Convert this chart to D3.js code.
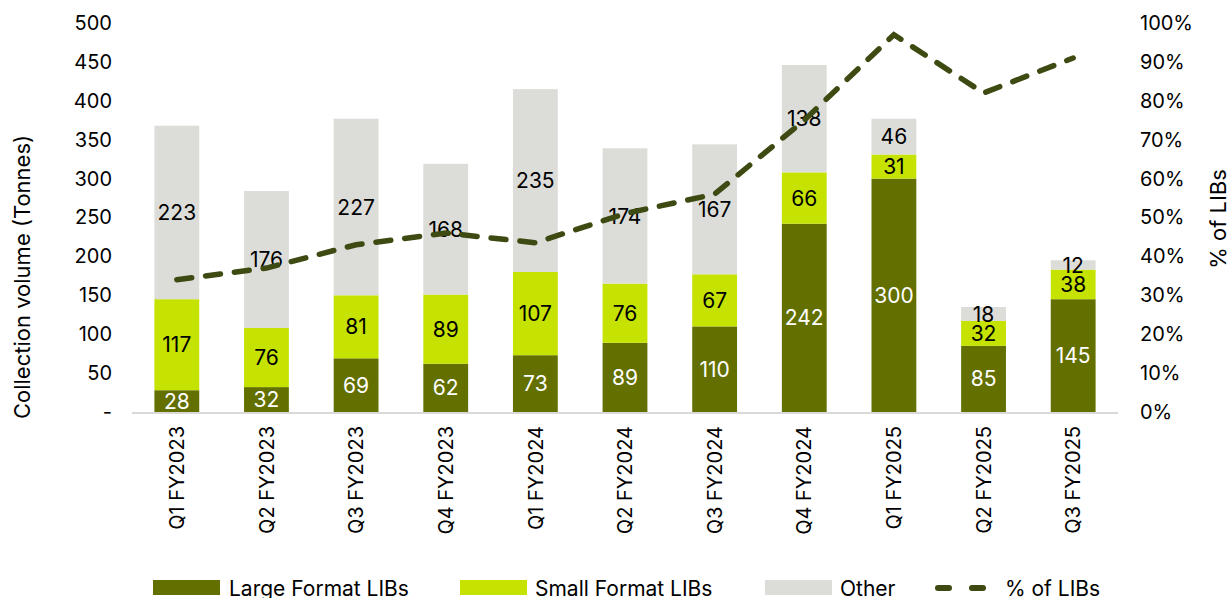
<!DOCTYPE html>
<html><head><meta charset="utf-8">
<script src="https://cdn.jsdelivr.net/npm/d3@7"></script>
<style>
body{margin:0;background:#fff;}
svg{display:block;font-family:Inter,"Noto Sans",sans-serif;}
</style></head>
<body><svg id="c" width="1232" height="598"></svg>
<script>
const categories = ["Q1 FY2023","Q2 FY2023","Q3 FY2023","Q4 FY2023","Q1 FY2024","Q2 FY2024","Q3 FY2024","Q4 FY2024","Q1 FY2025","Q2 FY2025","Q3 FY2025"];
const largeLIBs = [28,32,69,62,73,89,110,242,300,85,145];
const smallLIBs = [117,76,81,89,107,76,67,66,31,32,38];
const other = [223,176,227,168,235,174,167,138,46,18,12];
const pctLIBs = [34,37,43,46,43.5,51,56,75,97,82,91];
const leftTicks = [0,50,100,150,200,250,300,350,400,450,500];
const rightTicks = [0,10,20,30,40,50,60,70,80,90,100];
const seriesNames = ["Large Format LIBs","Small Format LIBs","Other"];
const colors = ["#637000","#c5e200","#dcdcd8"];
const lineColor = "#3d4a12";

const svg = d3.select("#c");
const x = d3.scaleBand().domain(categories).range([132,1118]).paddingInner(0.5).paddingOuter(0.25);
const y = d3.scaleLinear().domain([0,500]).range([412,23]);
const y2 = d3.scaleLinear().domain([0,100]).range([412,23]);

const rows = categories.map((c,i)=>({cat:c, s0:largeLIBs[i], s1:smallLIBs[i], s2:other[i]}));
const stack = d3.stack().keys(["s0","s1","s2"])(rows);

// baseline
svg.append("line").attr("x1",132).attr("x2",1118).attr("y1",y(0)+1).attr("y2",y(0)+1)
  .attr("stroke","#d9d9d9").attr("stroke-width",2);

stack.forEach((layer,k)=>{
  const g = svg.append("g");
  g.selectAll("rect").data(layer).join("rect")
    .attr("x",d=>x(d.data.cat)).attr("width",x.bandwidth())
    .attr("y",d=>y(d[1])).attr("height",d=>y(d[0])-y(d[1]))
    .attr("fill",colors[k]);
});
stack.forEach((layer,k)=>{
  svg.append("g").selectAll("text").data(layer).join("text")
    .attr("x",d=>x(d.data.cat)+x.bandwidth()/2)
    .attr("y",d=>(y(d[0])+y(d[1]))/2)
    .attr("dy","0.36em").attr("text-anchor","middle")
    .attr("font-size",21).attr("fill",k===0?"#ffffff":"#000000")
    .text(d=>d[1]-d[0]);
});

// line
const line = d3.line().x((d,i)=>x(categories[i])+x.bandwidth()/2).y(d=>y2(d));
svg.append("path").datum(pctLIBs).attr("d",line).attr("fill","none")
  .attr("stroke",lineColor).attr("stroke-width",5.5).attr("stroke-dasharray","15 14")
  .attr("stroke-linecap","round");

// left axis
const la = svg.append("g").attr("transform","translate(112,0)")
  .call(d3.axisLeft(y).tickValues(leftTicks).tickSize(0).tickPadding(0).tickFormat(d=>d===0?"-":d));
la.select(".domain").remove();
la.selectAll("text").attr("font-size",20).attr("fill","#000").attr("font-family","Inter,sans-serif");

// right axis
const ra = svg.append("g").attr("transform","translate(1140,0)")
  .call(d3.axisRight(y2).tickValues(rightTicks).tickSize(0).tickPadding(0).tickFormat(d=>d+"%"));
ra.select(".domain").remove();
ra.selectAll("text").attr("font-size",20).attr("fill","#000").attr("font-family","Inter,sans-serif");

// x axis labels
const xa = svg.append("g").attr("transform","translate(0,426)")
  .call(d3.axisBottom(x).tickSize(0).tickPadding(0));
xa.select(".domain").remove();
xa.selectAll("text").attr("font-size",20).attr("fill","#000").attr("font-family","Inter,sans-serif")
  .attr("transform","rotate(-90)").attr("text-anchor","end").attr("dy","0.36em").attr("x",0).attr("y",0);

// axis titles
svg.append("text").attr("transform","translate(30,277) rotate(-90)").attr("text-anchor","middle")
  .attr("font-size",22).attr("fill","#000").text("Collection volume (Tonnes)");
svg.append("text").attr("transform","translate(1226,219) rotate(-90)").attr("text-anchor","middle")
  .attr("font-size",22).attr("fill","#000").text("% of LIBs");

// legend
const leg = [
  {name:seriesNames[0], sx:153, tx:229, type:"rect", color:colors[0]},
  {name:seriesNames[1], sx:460, tx:535, type:"rect", color:colors[1]},
  {name:seriesNames[2], sx:765, tx:840, type:"rect", color:colors[2]},
  {name:"% of LIBs", sx:938, tx:1005, type:"line", color:lineColor}
];
leg.forEach(l=>{
  if(l.type==="rect"){
    svg.append("rect").attr("x",l.sx).attr("y",580).attr("width",67).attr("height",15).attr("fill",l.color);
  } else {
    svg.append("line").attr("x1",l.sx).attr("x2",l.sx+56).attr("y1",588).attr("y2",588)
      .attr("stroke",l.color).attr("stroke-width",6).attr("stroke-dasharray","11 23").attr("stroke-linecap","round");
  }
  svg.append("text").attr("x",l.tx).attr("y",588).attr("dy","0.36em").attr("font-size",21)
    .attr("fill","#000").attr("font-stretch","condensed").text(l.name);
});
</script></body></html>
